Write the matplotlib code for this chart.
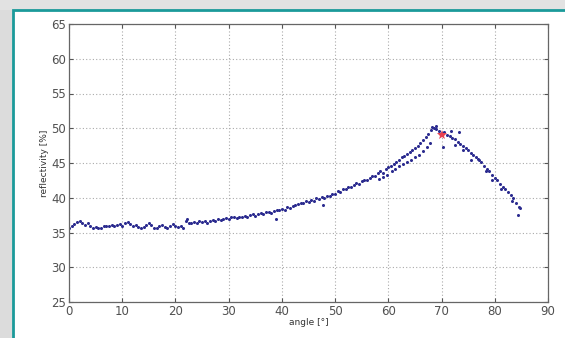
import numpy as np
import matplotlib
matplotlib.use("Agg")
import matplotlib.pyplot as plt
from matplotlib.patches import Rectangle

# main trace: reflectivity sampled every 0.5 degree starting at 0
angle_step = 0.5
reflectivity = [
    35.6, 35.9, 36.2, 36.5, 36.6, 36.4, 36.1, 36.3, 36.0, 35.7,
    35.8, 35.6, 35.7, 35.9, 36.0, 35.9, 36.1, 36.0, 36.1, 36.2,
    36.0, 36.3, 36.5, 36.2, 36.0, 36.1, 35.8, 35.6, 35.8, 36.1,
    36.3, 36.1, 35.7, 35.6, 35.9, 36.1, 35.8, 35.7, 36.0, 36.2,
    36.0, 35.8, 35.9, 35.7, 36.6, 36.4, 36.3, 36.5, 36.4, 36.6,
    36.5, 36.6, 36.4, 36.7, 36.8, 36.6, 36.9, 36.8, 37.0, 37.1,
    36.9, 37.2, 37.3, 37.1, 37.3, 37.2, 37.4, 37.3, 37.5, 37.6,
    37.4, 37.7, 37.8, 37.6, 37.9, 38.0, 37.8, 38.1, 38.3, 38.2,
    38.4, 38.3, 38.6, 38.5, 38.8, 38.9, 39.1, 39.3, 39.2, 39.5,
    39.4, 39.7, 39.6, 39.9, 39.8, 40.1, 40.0, 40.3, 40.2, 40.5,
    40.6, 40.9, 40.8, 41.2, 41.3, 41.6, 41.5, 41.9, 42.1, 42.0,
    42.4, 42.6, 42.5, 42.9, 43.2, 43.1, 43.5, 43.8, 43.6, 44.1,
    44.4, 44.6, 44.9, 45.2, 45.4, 45.8, 46.0, 46.3, 46.6, 46.9,
    47.2, 47.5, 47.9, 48.3, 48.7, 49.2, 49.8, 50.0, 49.9, 49.6,
    49.3, 49.4, 49.1, 48.9, 48.6, 48.5, 48.0, 47.7, 47.5, 47.1,
    46.8, 46.4, 46.2, 45.8, 45.4, 45.1, 44.6, 44.2, 43.8, 43.3,
    42.9, 42.5, 42.0, 41.6, 41.2, 40.8, 40.4, 39.9, 39.3, 38.7,
]

# scattered extra samples (second band near the peak, outliers)
extra_angle = [22.2, 38.9, 47.7, 58.2, 59.0, 59.8, 60.6, 61.3, 62.0, 62.8,
               63.5, 64.3, 65.0, 65.8, 66.5, 67.3, 67.8, 68.2, 69.0, 70.3,
               71.8, 72.5, 73.2, 74.0, 75.5, 76.8, 78.3, 79.5, 81.2, 83.2,
               84.7, 84.3]
extra_value = [36.9, 37.0, 39.0, 42.7, 43.0, 43.3, 43.8, 44.1, 44.5, 44.9,
               45.2, 45.5, 45.9, 46.2, 46.7, 47.3, 47.9, 50.2, 50.3, 47.3,
               49.6, 47.6, 49.5, 46.8, 45.5, 45.6, 43.9, 42.6, 41.3, 39.6,
               38.5, 37.5]

# highlighted point
peak_angle = [70.1]
peak_value = [49.1]

x_ticks = [0, 10, 20, 30, 40, 50, 60, 70, 80, 90]
y_ticks = [25, 30, 35, 40, 45, 50, 55, 60, 65]

angles = np.arange(len(reflectivity)) * angle_step

W, H = 565, 338
fig = plt.figure(figsize=(W / 100, H / 100), dpi=100)
fig.patch.set_facecolor("white")

# screenshot frame decorations
fig.add_artist(Rectangle((0, 0), 13 / W, 1, transform=fig.transFigure,
                         facecolor="#dcdcdc", edgecolor="none", zorder=0))
fig.add_artist(Rectangle((0, 1 - 10 / H), 1, 10 / H, transform=fig.transFigure,
                         facecolor="#e2e2e2", edgecolor="none", zorder=0))
fig.add_artist(Rectangle((13 / W, -0.05), 1.0, 1 - 10 / H + 0.05,
                         transform=fig.transFigure, facecolor="white",
                         edgecolor="#1b9a9a", linewidth=2.0, zorder=0.5))

ax = fig.add_axes([69 / W, 1 - 302 / H, (548 - 69) / W, (302 - 24) / H])
ax.set_zorder(2)

ax.plot(angles, reflectivity, linestyle="none", marker="o", markersize=2.2,
        color="#2b2b8f", markeredgewidth=0, zorder=2)
ax.plot(extra_angle, extra_value, linestyle="none", marker="o", markersize=2.2,
        color="#2b2b8f", markeredgewidth=0, zorder=2)
ax.plot(peak_angle, peak_value, linestyle="none", marker="*", markersize=7,
        color="#e8404f", markeredgewidth=0, zorder=4)

ax.set_xlim(0, 90)
ax.set_ylim(25, 65)
ax.set_xticks(x_ticks)
ax.set_yticks(y_ticks)
ax.grid(True, linestyle=(0, (1, 2)), color="#aaaaaa", linewidth=0.8)
ax.tick_params(direction="in", length=3, width=0.8, colors="#555555",
               labelsize=8.5, top=True, right=True, pad=2)
ax.tick_params(axis="both", labelcolor="#505050")
for s in ax.spines.values():
    s.set_color("#666666")
    s.set_linewidth(0.9)

ax.set_xlabel("angle [°]", fontsize=6.5, labelpad=0, color="#333333")
ax.set_ylabel("reflectivity [%]", fontsize=6.5, labelpad=2, color="#333333")

fig.savefig("out.png", dpi=100)
